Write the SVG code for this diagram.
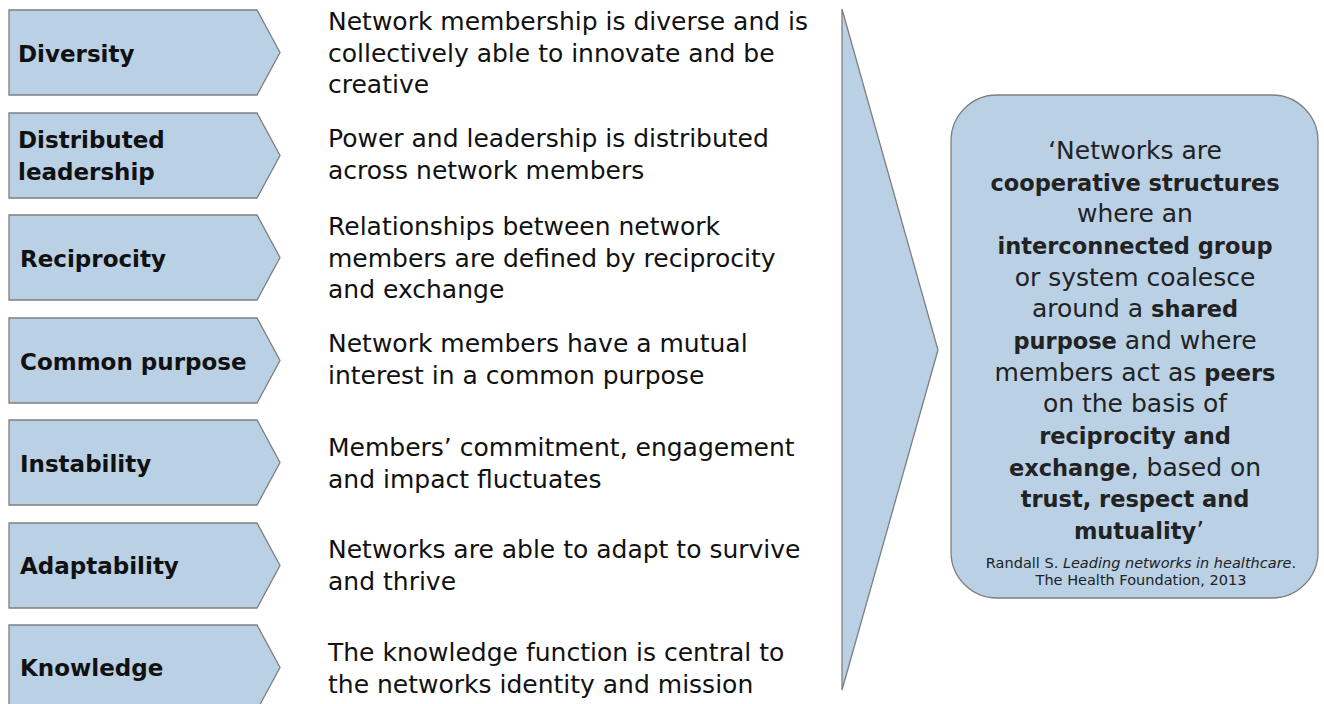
<svg xmlns="http://www.w3.org/2000/svg" width="1324" height="704" viewBox="0 0 1324 704">
<style>
.shape{fill:#b9d0e5;stroke:#7f7f7f;stroke-width:1.3}
.lbl{font-family:"DejaVu Sans",Arial,sans-serif;font-weight:bold;font-size:23px;fill:#111}
.desc{font-family:"DejaVu Sans",Arial,sans-serif;font-size:25px;fill:#111}
.quote{font-family:"DejaVu Sans",Arial,sans-serif;font-size:25px;fill:#222;text-anchor:middle}
.quote .b{font-weight:bold;font-size:22.5px}
.cite{font-family:"DejaVu Sans",Arial,sans-serif;font-size:14.5px;fill:#222;text-anchor:middle}
</style>
<defs>
<path id="chev" d="M0,0 H248 L271,42.5 L248,85 H0 Z"/>
</defs>
<rect width="1324" height="704" fill="#fff"/>
<g id="connectors">
<path class="shape" d="M842,9 L938,350 L842,690 Z"/>
</g>
<g id="diversity">
<use href="#chev" class="shape" x="9" y="10"/>
<text class="lbl" x="18" y="62">Diversity</text>
<text class="desc" x="328"><tspan x="328" y="30">Network membership is diverse and is</tspan><tspan x="328" y="61.5">collectively able to innovate and be</tspan><tspan x="328" y="93">creative</tspan></text>
</g>
<g id="distributed">
<use href="#chev" class="shape" x="9" y="113"/>
<text class="lbl" x="18"><tspan x="18" y="148">Distributed</tspan><tspan x="18" y="180">leadership</tspan></text>
<text class="desc"><tspan x="328" y="147">Power and leadership is distributed</tspan><tspan x="328" y="178.5">across network members</tspan></text>
</g>
<g id="reciprocity">
<use href="#chev" class="shape" x="9" y="215"/>
<text class="lbl" x="20" y="267">Reciprocity</text>
<text class="desc"><tspan x="328" y="235">Relationships between network</tspan><tspan x="328" y="266.5">members are defined by reciprocity</tspan><tspan x="328" y="298">and exchange</tspan></text>
</g>
<g id="common-purpose">
<use href="#chev" class="shape" x="9" y="318"/>
<text class="lbl" x="20" y="370">Common purpose</text>
<text class="desc"><tspan x="328" y="352">Network members have a mutual</tspan><tspan x="328" y="383.5">interest in a common purpose</tspan></text>
</g>
<g id="instability">
<use href="#chev" class="shape" x="9" y="420"/>
<text class="lbl" x="20" y="472">Instability</text>
<text class="desc"><tspan x="328" y="456">Members’ commitment, engagement</tspan><tspan x="328" y="487.5">and impact fluctuates</tspan></text>
</g>
<g id="adaptability">
<use href="#chev" class="shape" x="9" y="523"/>
<text class="lbl" x="20" y="574">Adaptability</text>
<text class="desc"><tspan x="328" y="558">Networks are able to adapt to survive</tspan><tspan x="328" y="589.5">and thrive</tspan></text>
</g>
<g id="knowledge">
<use href="#chev" class="shape" x="9" y="625"/>
<text class="lbl" x="20" y="676">Knowledge</text>
<text class="desc"><tspan x="328" y="661">The knowledge function is central to</tspan><tspan x="328" y="692.5">the networks identity and mission</tspan></text>
</g>
<g id="quote-box">
<rect class="shape" x="951" y="95" width="367" height="503" rx="46" ry="46"/>
<text class="quote">
<tspan x="1139" y="159">‘Networks are</tspan>
<tspan x="1139" y="191" class="b">cooperative structures</tspan>
<tspan x="1139" y="222">where an</tspan>
<tspan x="1139" y="254" class="b">interconnected group</tspan>
<tspan x="1139" y="286">or system coalesce</tspan>
<tspan x="1139" y="317">around a <tspan class="b">shared</tspan></tspan>
<tspan x="1139" y="349"><tspan class="b">purpose</tspan> and where</tspan>
<tspan x="1139" y="381">members act as <tspan class="b">peers</tspan></tspan>
<tspan x="1139" y="412">on the basis of</tspan>
<tspan x="1139" y="444" class="b">reciprocity and</tspan>
<tspan x="1139" y="476"><tspan class="b">exchange</tspan>, based on</tspan>
<tspan x="1139" y="507" class="b">trust, respect and</tspan>
<tspan x="1139" y="539"><tspan class="b">mutuality</tspan>’</tspan>
</text>
<text class="cite"><tspan x="1141" y="568">Randall S. <tspan font-style="italic">Leading networks in healthcare</tspan>.</tspan><tspan x="1141" y="585">The Health Foundation, 2013</tspan></text>
</g>
</svg>
